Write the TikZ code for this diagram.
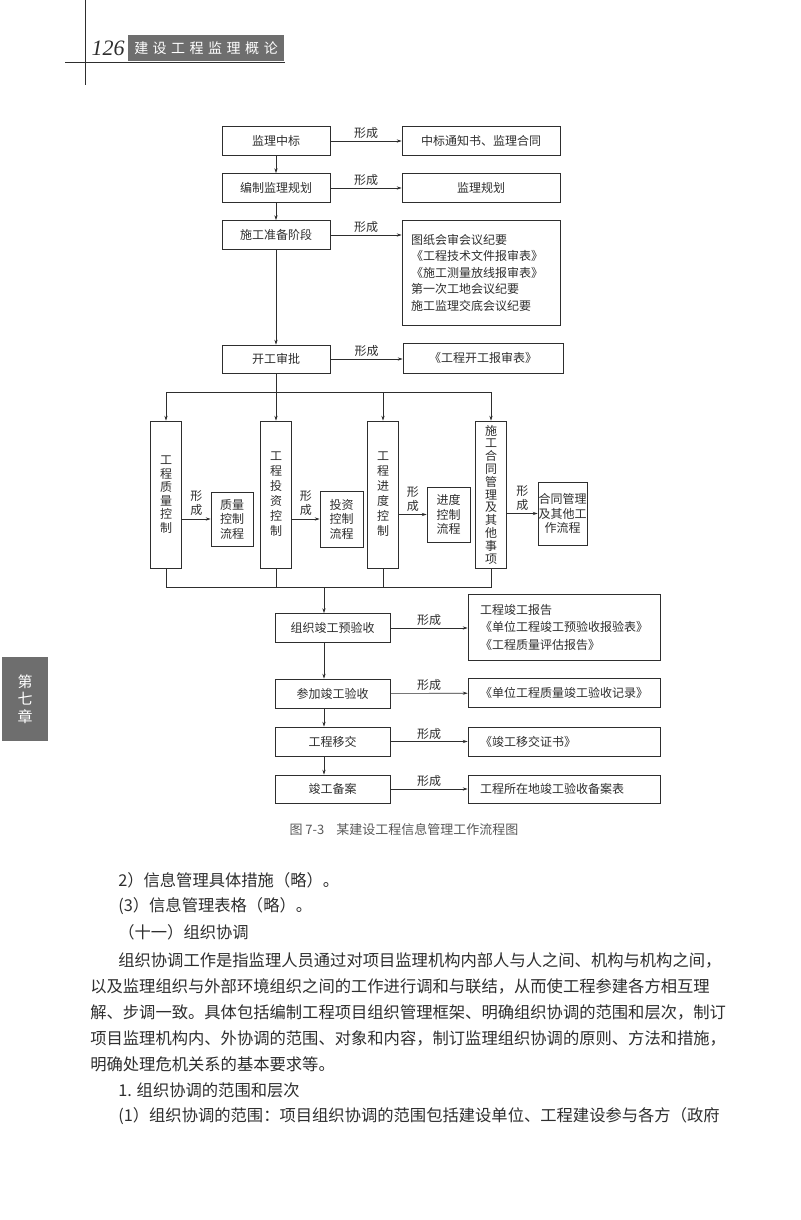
\documentclass[tikz,border=0pt]{standalone}
\usepackage{fontspec}
\setmainfont{Noto Sans CJK SC}
\newfontfamily\pagenum{Liberation Serif}
\usetikzlibrary{arrows.meta}

\definecolor{ink}{HTML}{2E2E2E}
\definecolor{banner}{HTML}{6E6E6E}

\begin{document}
\begin{tikzpicture}[x=1pt,y=-1pt,color=ink,line width=0.6pt,
  >={Stealth[length=5pt,width=3.2pt]},
  box/.style={draw=ink,inner sep=0pt,text=ink,font=\fontsize{12}{14}\selectfont},
  lbox/.style={box,minimum width=108pt,minimum height=29pt},
  mbox/.style={box,minimum width=115pt,minimum height=29pt},
  rbox/.style={box,minimum width=158pt,minimum height=29pt},
  dbox/.style={box,minimum width=192pt,minimum height=29pt,text width=168pt,align=left},
  vbox/.style={box,minimum width=31pt,minimum height=147pt,align=center},
  fbox/.style={box,align=center,font=\fontsize{12}{14.5}\selectfont},
  formed/.style={midway,above,inner sep=2pt,text=ink,font=\fontsize{12}{13}\selectfont},
  vformed/.style={midway,above,inner sep=3pt,align=center,text=ink,font=\fontsize{12}{14}\selectfont},
  body/.style={anchor=west,inner sep=0pt,text=ink,font=\fontsize{16.3}{18}\selectfont}]

\fill[white] (0,0) rectangle (800,1220);
\useasboundingbox (0,0) rectangle (800,1220);

\draw (85,0) -- (85,85);
\draw (65,62) -- (285,62);
\node[inner sep=0pt,text=ink,font=\pagenum\fontsize{22}{22}\selectfont\itshape] (pgno) at (108,48) {126};
\node[fill=banner,minimum width=156pt,minimum height=26pt,inner sep=0pt,text=white,font=\fontsize{14}{14}\selectfont] (runhead) at (206,48)
  {建\hspace{4.5pt}设\hspace{4.5pt}工\hspace{4.5pt}程\hspace{4.5pt}监\hspace{4.5pt}理\hspace{4.5pt}概\hspace{4.5pt}论};

\node[fill=banner,minimum width=46pt,minimum height=84pt,inner sep=0pt,align=center,text=white,font=\fontsize{15}{17.5}\selectfont] (chaptab) at (25,699) {第\\七\\章};

\node[lbox] (bid) at (276,141) {监理中标};
\node[rbox] (bidout) at (481,141) {中标通知书、监理合同};
\draw[->] (bid) -- node[formed] {形成} (bidout);

\node[lbox] (plan) at (276,188) {编制监理规划};
\node[rbox] (planout) at (481,188) {监理规划};
\draw[->] (plan) -- node[formed] {形成} (planout);

\node[lbox] (prep) at (276,235) {施工准备阶段};
\node[rbox,minimum height=105pt,text width=140pt,align=left,font=\fontsize{12}{16.5}\selectfont] (prepout) at (481,272.5)
  {图纸会审会议纪要\\《工程技术文件报审表》\\《施工测量放线报审表》\\第一次工地会议纪要\\施工监理交底会议纪要};
\draw[->] (prep) -- node[formed] {形成} (prep -| prepout.west);

\node[lbox,minimum height=28pt] (start) at (276,359) {开工审批};
\node[rbox,minimum width=160pt,minimum height=30pt] (startout) at (483,358) {《工程开工报审表》};
\draw[->] (start) -- node[formed] {形成} (start -| startout.west);

\draw[->] (bid) -- (plan);
\draw[->] (plan) -- (prep);
\draw[->] (prep) -- (start);

\node[vbox,font=\fontsize{12}{13.5}\selectfont] (qual) at (166,494.5) {工\\程\\质\\量\\控\\制};
\node[vbox,font=\fontsize{12}{15}\selectfont] (cost) at (276,494.5) {工\\程\\投\\资\\控\\制};
\node[vbox,font=\fontsize{12}{15}\selectfont] (prog) at (383,494.5) {工\\程\\进\\度\\控\\制};
\node[vbox,font=\fontsize{12}{12.8}\selectfont] (cont) at (491,494.5) {施\\工\\合\\同\\管\\理\\及\\其\\他\\事\\项};

\coordinate (split) at (276,392);
\draw (start) -- (split);
\draw (qual.north |- split) -- (cont.north |- split);
\draw[->] (qual.north |- split) -- (qual);
\draw[->] (split) -- (cost);
\draw[->] (prog.north |- split) -- (prog);
\draw[->] (cont.north |- split) -- (cont);

\node[fbox,minimum width=42pt,minimum height=54pt] (qualflow) at (232,519) {质量\\控制\\流程};
\node[fbox,minimum width=43pt,minimum height=56pt] (costflow) at (341.5,519) {投资\\控制\\流程};
\node[fbox,minimum width=43pt,minimum height=55pt] (progflow) at (448.5,514.5) {进度\\控制\\流程};
\node[fbox,minimum width=49pt,minimum height=63pt] (contflow) at (562.5,513.5) {合同管理\\及其他工\\作流程};

\draw[->] (qual.east |- qualflow) -- node[vformed] {形\\成} (qualflow);
\draw[->] (cost.east |- costflow) -- node[vformed] {形\\成} (costflow);
\draw[->] (prog.east |- progflow) -- node[vformed] {形\\成} (progflow);
\draw[->] (cont.east |- contflow) -- node[vformed] {形\\成} (contflow);

\coordinate (join) at (324,587);
\draw (qual.south) -- (qual.south |- join) -- (cont.south |- join) -- (cont.south);
\draw (cost.south) -- (cost.south |- join);
\draw (prog.south) -- (prog.south |- join);

\node[mbox] (preacc) at (332.5,628) {组织竣工预验收};
\node[dbox,minimum height=66pt,font=\fontsize{12}{17.5}\selectfont] (preaccout) at (564,627)
  {工程竣工报告\\《单位工程竣工预验收报验表》\\《工程质量评估报告》};
\draw[->] (preacc) -- node[formed] {形成} (preacc -| preaccout.west);

\node[mbox] (acc) at (332.5,693.5) {参加竣工验收};
\node[dbox] (accout) at (564,693) {《单位工程质量竣工验收记录》};
\draw[->] (acc) -- node[formed] {形成} (accout);

\node[mbox] (handover) at (332.5,741.5) {工程移交};
\node[dbox] (handout) at (564,741.5) {《竣工移交证书》};
\draw[->] (handover) -- node[formed] {形成} (handout);

\node[mbox,minimum height=28pt] (filing) at (332.5,789) {竣工备案};
\node[dbox,minimum height=28pt] (filingout) at (564,789) {工程所在地竣工验收备案表};
\draw[->] (filing) -- node[formed] {形成} (filingout);

\draw[->] (join) -- (join |- preacc.north);
\draw[->] (join |- preacc.south) -- (join |- acc.north);
\draw[->] (join |- acc.south) -- (join |- handover.north);
\draw[->] (join |- handover.south) -- (join |- filing.north);

\node[inner sep=0pt,text=black!65,font=\fontsize{13}{13}\selectfont] (caption) at (404,830) {图 7-3\hspace{12pt}某建设工程信息管理工作流程图};

\node[body] (l1) at (118,880) {2）信息管理具体措施（略）。};
\node[body] (l2) at (118,906) {(3）信息管理表格（略）。};
\node[body] (l3) at (118,932) {（十一）组织协调};
\node[body] (l4) at (118,960) {组织协调工作是指监理人员通过对项目监理机构内部人与人之间、机构与机构之间，};
\node[body] (l5) at (90,986) {以及监理组织与外部环境组织之间的工作进行调和与联结，从而使工程参建各方相互理};
\node[body] (l6) at (90,1012) {解、步调一致。具体包括编制工程项目组织管理框架、明确组织协调的范围和层次，制订};
\node[body] (l7) at (90,1038) {项目监理机构内、外协调的范围、对象和内容，制订监理组织协调的原则、方法和措施，};
\node[body] (l8) at (90,1064) {明确处理危机关系的基本要求等。};
\node[body] (l9) at (118,1090) {1. 组织协调的范围和层次};
\node[body] (l10) at (118,1116) {(1）组织协调的范围：项目组织协调的范围包括建设单位、工程建设参与各方（政府};
\end{tikzpicture}
\end{document}
